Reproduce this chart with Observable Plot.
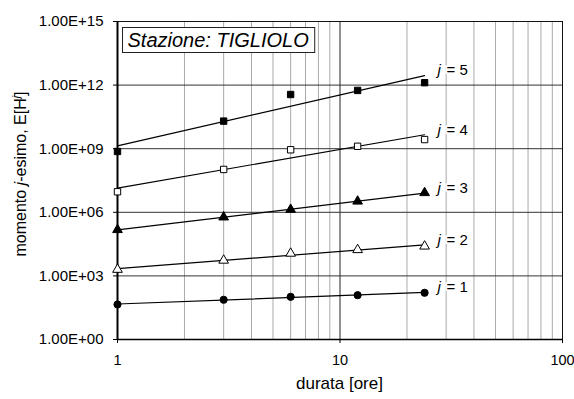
<!DOCTYPE html>
<html>
<head>
<meta charset="utf-8">
<script src="https://cdn.jsdelivr.net/npm/d3@7"></script>
<script src="https://cdn.jsdelivr.net/npm/@observablehq/plot@0.6"></script>
<style>
  body { margin: 0; background: #fff; }
  #chart svg { font-family: "Liberation Sans", Arial, sans-serif; }
</style>
</head>
<body>
<div id="chart"></div>
<script>
// Durations (hours) and sample moments E[H^j] of annual maxima, station Tigliolo
const durations = [1, 3, 6, 12, 24];
const moment1 = [45, 75, 103, 123, 160];
const moment2 = [2000, 5400, 11500, 17000, 25000];
const moment3 = [1.5e5, 5.9e5, 1.35e6, 3.3e6, 8.3e6];
const moment4 = [9.3e6, 1.05e8, 8.9e8, 1.3e9, 2.7e9];
const moment5 = [7.4e8, 2.0e10, 3.6e11, 5.6e11, 1.3e12];
const orders = [1, 2, 3, 4, 5];

const xTicks = [1, 10, 100];
const xTickLabels = ["1", "10", "100"];
const yTicks = [1, 1e3, 1e6, 1e9, 1e12, 1e15];
const yTickLabels = ["1.00E+00", "1.00E+03", "1.00E+06", "1.00E+09", "1.00E+12", "1.00E+15"];
const xMinorGrid = [2, 3, 4, 5, 6, 7, 8, 9, 20, 30, 40, 50, 60, 70, 80, 90];
const stationTitle = "Stazione: TIGLIOLO";

// marker style per order j
const markerShape = ["circle", "triangle", "triangle", "square", "square"];
const markerFill = ["black", "white", "black", "white", "black"];

const moments = [moment1, moment2, moment3, moment4, moment5];
const points = moments.flatMap((vals, i) =>
  vals.map((m, k) => ({ j: orders[i], d: durations[k], m }))
);

// power-law trend per order: least squares in log-log space
const fits = moments.map((vals, i) => {
  const lx = durations.map(Math.log10);
  const ly = vals.map(Math.log10);
  const mx = d3.mean(lx), my = d3.mean(ly);
  const b = d3.sum(lx, (x, k) => (x - mx) * (ly[k] - my)) / d3.sum(lx, x => (x - mx) ** 2);
  return { j: orders[i], a: my - b * mx, b };
});
const dMin = d3.min(durations), dMax = d3.max(durations);
const fitLines = fits.flatMap(f =>
  [dMin, dMax].map(d => ({ j: f.j, d, m: 10 ** (f.a + f.b * Math.log10(d)) }))
);
const fitEnds = fitLines.filter(p => p.d === dMax);

const plot = Plot.plot({
  width: 574,
  height: 399,
  marginLeft: 117,
  marginRight: 12,
  marginTop: 21,
  marginBottom: 60,
  style: { fontSize: "15px", fontFamily: "'Liberation Sans', Arial, sans-serif", color: "#000" },
  x: { type: "log", domain: [1, 100] },
  y: { type: "log", domain: [1, 1e15] },
  marks: [
    Plot.ruleX(xMinorGrid, { stroke: "#aaa", strokeWidth: 1 }),
    Plot.ruleX([10], { stroke: "#222", strokeWidth: 1 }),
    Plot.ruleY(yTicks, { stroke: "#333", strokeWidth: 1 }),
    Plot.frame({ stroke: "#111", strokeWidth: 1 }),
    Plot.ruleX([1], { stroke: "#000", strokeWidth: 2 }),
    Plot.ruleY([1], { stroke: "#000", strokeWidth: 1.5 }),
    Plot.axisX({
      ticks: xTicks,
      tickFormat: d => xTickLabels[xTicks.indexOf(d)],
      tickSize: 4,
      tickPadding: 11,
      fontSize: 14.5,
      label: null
    }),
    Plot.axisY({
      ticks: yTicks,
      tickFormat: d => yTickLabels[yTicks.indexOf(d)],
      tickSize: 4,
      tickPadding: 10,
      label: null
    }),
    Plot.line(fitLines, { x: "d", y: "m", z: "j", stroke: "#000", strokeWidth: 1.2 }),
    Plot.dot(points, {
      x: "d",
      y: "m",
      symbol: p => markerShape[p.j - 1],
      fill: p => markerFill[p.j - 1],
      stroke: "#000",
      strokeWidth: 1,
      r: 3.6
    }),
    Plot.text(fitEnds, {
      x: "d", y: "m", text: () => "j",
      dx: 13, dy: -5, textAnchor: "start",
      fontStyle: "italic", fill: "#000",
      stroke: "white", strokeWidth: 4
    }),
    Plot.text(fitEnds, {
      x: "d", y: "m", text: p => "= " + p.j,
      dx: 22, dy: -5, textAnchor: "start",
      fill: "#000", stroke: "white", strokeWidth: 4
    })
  ]
});

document.getElementById("chart").append(plot);

const svg = d3.select(plot);
const xs = plot.scale("x"), ys = plot.scale("y");
const plotLeft = xs.apply(1), plotRight = xs.apply(100);
const plotTop = ys.apply(1e15), plotBottom = ys.apply(1);

// x-axis title
svg.append("text")
  .attr("x", (plotLeft + plotRight) / 2)
  .attr("y", 383)
  .attr("dy", "0.35em")
  .attr("text-anchor", "middle")
  .attr("font-size", 17)
  .text("durata [ore]");

// y-axis title with italic order j and superscript
const yLabel = svg.append("text")
  .attr("transform", `translate(20,${(plotTop + plotBottom) / 2 - 6}) rotate(-90)`)
  .attr("dy", "0.35em")
  .attr("text-anchor", "middle")
  .attr("font-size", 16);
yLabel.append("tspan").text("momento ");
yLabel.append("tspan").attr("font-style", "italic").text("j");
yLabel.append("tspan").text("-esimo, E[H");
yLabel.append("tspan").attr("font-style", "italic").attr("font-size", 10.5)
  .attr("baseline-shift", "super").text("j");
yLabel.append("tspan").text("]");

// station title in a boxed label at the top-left of the plot area
const titleG = svg.append("g").attr("transform", `translate(${plotLeft + 5.5},${plotTop + 6.5})`);
const titleRect = titleG.append("rect").attr("fill", "white").attr("stroke", "#222").attr("stroke-width", 1);
const titleText = titleG.append("text")
  .attr("x", 5)
  .attr("y", 19.5)
  .attr("text-anchor", "start")
  .attr("font-size", 20)
  .attr("font-style", "italic")
  .text(stationTitle);
const bb = titleText.node().getBBox();
titleRect
  .attr("x", 0)
  .attr("y", 0)
  .attr("width", bb.width + 11)
  .attr("height", 25);
</script>
</body>
</html>
